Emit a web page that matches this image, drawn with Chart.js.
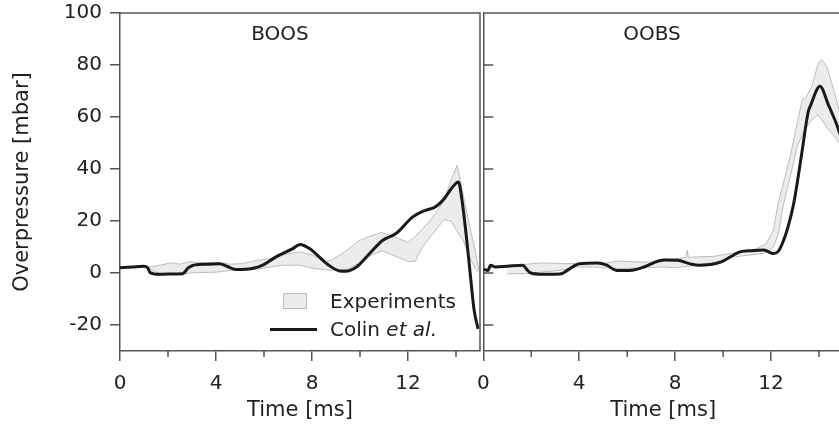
<!DOCTYPE html>
<html><head><meta charset="utf-8">
<script src="https://cdn.jsdelivr.net/npm/chart.js@4"></script>
<style>
html,body{margin:0;padding:0;background:#fff;overflow:hidden;}
#wrap{position:relative;width:839px;height:429px;overflow:hidden;font-family:"DejaVu Sans",sans-serif;color:#222;}
#c1{position:absolute;left:0;top:0;}
#c2{position:absolute;left:470px;top:0;}
.lbl{position:absolute;font-size:20px;line-height:20px;white-space:nowrap;}
.box{position:absolute;left:283px;top:293px;width:22px;height:14px;background:#ececec;border:1px solid #bdbdbd;}
.ln{position:absolute;left:270px;top:328px;width:47px;height:3px;background:#1a1a1a;}
</style></head><body>
<div id="wrap">
<canvas id="c1" width="482" height="429" style="width:482px;height:429px"></canvas>
<canvas id="c2" width="380" height="429" style="width:380px;height:429px"></canvas>
<div class="lbl" style="left:180px;width:200px;text-align:center;top:23px">BOOS</div>
<div class="lbl" style="left:552px;width:200px;text-align:center;top:23px">OOBS</div>
<div class="box"></div>
<div class="lbl" style="left:330px;top:291px">Experiments</div>
<div class="ln"></div>
<div class="lbl" style="left:330px;top:319px">Colin <i>et al.</i></div>
</div>
<script>
// ---- data ----
const xTicks = [0, 4, 8, 12];
const xMinorTicks = [2, 6, 10, 14];
const yTicks = [-20, 0, 20, 40, 60, 80, 100];

const boosTime = [0, 0.5, 1.0, 1.15, 1.25, 1.6, 2.0, 2.6, 2.85, 3.0, 3.6, 4.15, 4.45, 4.85, 5.5, 5.95, 6.5, 7.2, 7.5, 7.9, 8.3, 8.7, 9.15, 9.4, 9.85, 10.4, 10.95, 11.5, 12.2, 12.7, 13.15, 13.5, 13.85, 14.1, 14.25, 14.42, 14.6, 14.75, 14.92];
const boosColin = [2.0, 2.3, 2.6, 2.0, 0.2, -0.5, -0.4, -0.3, 2.0, 2.8, 3.4, 3.6, 2.6, 1.3, 1.7, 3.0, 6.2, 9.4, 11.0, 9.4, 6.2, 3.0, 0.8, 0.7, 2.3, 7.5, 12.6, 15.2, 21.6, 24.0, 25.5, 28.5, 33.0, 35.0, 28.0, 15.0, -1.0, -14.0, -21.5];
const boosBandTime = [1.2, 1.7, 2.1, 2.5, 2.9, 3.3, 4.0, 4.6, 5.1, 5.7, 6.2, 6.8, 7.5, 8.0, 8.6, 9.0, 9.5, 10.0, 10.5, 10.9, 11.2, 11.6, 12.0, 12.3, 12.6, 12.9, 13.2, 13.5, 13.8, 14.05, 14.3, 14.5, 14.8, 14.95];
const boosUpper = [2.3, 3.0, 3.9, 3.4, 4.4, 3.9, 4.1, 3.4, 3.6, 4.9, 5.5, 7.0, 8.1, 7.0, 4.2, 6.0, 9.0, 12.6, 14.5, 15.6, 14.6, 13.3, 11.8, 14.0, 17.0, 20.0, 23.5, 28.0, 36.0, 41.5, 30.0, 21.0, 8.5, 1.0];
const boosLower = [1.7, -0.5, -0.6, -0.5, 0.0, 0.2, 0.3, 1.0, 1.0, 1.5, 2.2, 3.0, 3.0, 1.8, 1.2, 1.0, 1.5, 4.0, 7.0, 8.5, 7.5, 6.0, 4.5, 4.5, 10.0, 13.5, 17.0, 20.5, 20.0, 16.0, 12.5, 7.5, 1.7, 0.4];

const oobsTime = [0, 0.2, 0.3, 0.5, 1.0, 1.65, 1.8, 1.95, 2.5, 3.2, 3.5, 3.75, 4.0, 4.75, 5.15, 5.55, 6.1, 6.7, 7.3, 7.6, 8.1, 8.6, 9.0, 9.9, 10.7, 11.2, 11.7, 12.1, 12.3, 12.5, 12.7, 12.95, 13.28, 13.55, 13.65, 14.04, 14.39, 14.74, 15.0];
const oobsColin = [1.5, 1.0, 3.0, 2.3, 2.6, 3.0, 1.5, 0.1, -0.5, -0.4, 1.0, 2.5, 3.6, 3.8, 3.0, 1.0, 1.0, 2.3, 4.6, 5.0, 4.9, 3.6, 3.0, 4.2, 8.1, 8.6, 8.8, 7.5, 8.3, 12.0, 17.5, 27.0, 46.0, 62.0, 64.5, 71.8, 64.7, 57.0, 50.0];
const oobsBandTime = [1.0, 1.8, 2.5, 3.2, 3.9, 4.6, 5.0, 5.6, 6.3, 7.0, 7.5, 8.0, 8.45, 8.5, 8.55, 8.9, 9.6, 10.3, 11.0, 11.4, 11.8, 12.1, 12.3, 12.5, 12.8, 13.1, 13.3, 13.45, 13.7, 13.97, 14.11, 14.32, 14.53, 14.8, 15.0];
const oobsUpper = [2.3, 3.4, 3.9, 3.6, 3.6, 3.9, 3.6, 4.6, 4.3, 4.2, 5.3, 5.5, 6.0, 8.8, 6.0, 6.2, 6.4, 7.5, 8.1, 9.4, 11.3, 16.5, 27.0, 34.0, 45.0, 58.0, 66.7, 67.5, 71.8, 80.8, 82.1, 79.5, 73.1, 64.0, 58.0];
const oobsLower = [-0.3, -0.3, 0.4, 1.0, 2.3, 2.3, 2.0, 1.7, 1.8, 2.1, 2.3, 2.0, 2.5, 2.5, 2.5, 3.2, 4.0, 6.0, 6.8, 7.2, 7.8, 10.0, 15.0, 25.5, 37.0, 49.0, 53.0, 55.5, 59.0, 60.9, 59.0, 56.0, 53.8, 50.6, 47.0];

// ---- helpers ----
const AX = '#555';
const TXT = '#222';
const FONT = 'DejaVu Sans';
const pts = (xs, ys) => xs.map((x, i) => ({x: x, y: ys[i]}));
const noPad = s => { s.paddingTop = 0; s.paddingBottom = 0; s.paddingLeft = 0; s.paddingRight = 0; };

const framePlugin = {
  id: 'frame',
  afterDraw(chart, args, o) {
    const {ctx, chartArea: a, scales} = chart;
    ctx.save();
    ctx.strokeStyle = AX; ctx.lineWidth = 1.5;
    ctx.beginPath();
    ctx.moveTo(a.left, a.top); ctx.lineTo(a.right, a.top); ctx.lineTo(a.right, a.bottom);
    xMinorTicks.forEach(v => { const px = scales.x.getPixelForValue(v); ctx.moveTo(px, a.bottom); ctx.lineTo(px, a.bottom + 6); });
    if (o.innerY) yTicks.forEach(v => { const py = scales.y.getPixelForValue(v); ctx.moveTo(a.left, py); ctx.lineTo(a.left + 10, py); });
    ctx.stroke();
    ctx.restore();
  }
};

function makeChart(id, t, colin, bt, up, lo, isLeft, rightPad) {
  return new Chart(document.getElementById(id), {
    type: 'line',
    data: {
      datasets: [
        {label: 'Colin et al.', data: pts(t, colin), borderColor: '#1a1a1a', borderWidth: 3, pointRadius: 0, cubicInterpolationMode: 'monotone', fill: false},
        {label: 'Experiments max', data: pts(bt, up), borderColor: '#bdbdbd', borderWidth: 1, pointRadius: 0, tension: 0, fill: '+1', backgroundColor: '#ececec'},
        {label: 'Experiments min', data: pts(bt, lo), borderColor: '#bdbdbd', borderWidth: 1, pointRadius: 0, tension: 0, fill: false}
      ]
    },
    options: {
      responsive: false, animation: false, devicePixelRatio: 1,
      layout: {padding: {top: 13, right: rightPad, left: 0, bottom: 0}},
      plugins: {legend: {display: false}, tooltip: {enabled: false}, filler: {drawTime: 'beforeDatasetsDraw'}, frame: {innerY: !isLeft}},
      scales: {
        x: {
          type: 'linear', min: 0, max: 15,
          afterBuildTicks: s => { s.ticks = xTicks.map(v => ({value: v})); },
          afterFit: s => { s.height = 78; noPad(s); },
          ticks: {font: {family: FONT, size: 20}, color: TXT, padding: 11, maxRotation: 0, autoSkip: false},
          grid: {drawOnChartArea: false, tickLength: 10, color: AX, lineWidth: 1.5},
          border: {color: AX, width: 1.5},
          title: {display: true, text: 'Time [ms]', font: {family: FONT, size: 21}, color: TXT, padding: {top: 0, bottom: 6}}
        },
        y: {
          type: 'linear', min: -30, max: 100,
          afterBuildTicks: s => { s.ticks = yTicks.map(v => ({value: v})); },
          afterFit: s => { s.width = isLeft ? 120 : 13.3; noPad(s); },
          ticks: {display: isLeft, font: {family: FONT, size: 20}, color: TXT, padding: 8},
          grid: {drawOnChartArea: false, drawTicks: isLeft, tickLength: 10, color: AX, lineWidth: 1.5},
          border: {color: AX, width: 1.5},
          title: {display: isLeft, text: 'Overpressure [mbar]', font: {family: FONT, size: 21}, color: TXT, padding: {top: 10, bottom: 0}}
        }
      }
    },
    plugins: [framePlugin]
  });
}

makeChart('c1', boosTime, boosColin, boosBandTime, boosUpper, boosLower, true, 2);
makeChart('c2', oobsTime, oobsColin, oobsBandTime, oobsUpper, oobsLower, false, 7);
</script>
</body></html>
